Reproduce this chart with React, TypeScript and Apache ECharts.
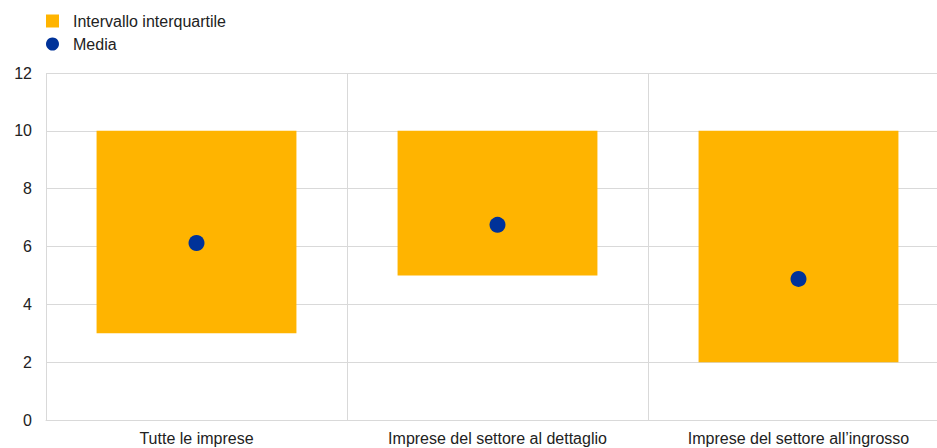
import React, { useEffect, useRef } from "react";
import * as echarts from "echarts";

const categories = ["Tutte le imprese", "Imprese del settore al dettaglio", "Imprese del settore all\u2019ingrosso"];
const q1Values = [3, 5, 2];
const q3Values = [10, 10, 10];
const meanValues = [6.12, 6.75, 4.88];
const yTicks = [0, 2, 4, 6, 8, 10, 12];

const ORANGE = "#FFB400";
const BLUE = "#003299";
const FONT = "Liberation Sans, Arial, sans-serif";

export default function App() {
  const ref = useRef<HTMLDivElement>(null);
  useEffect(() => {
    if (!ref.current) return;
    const chart = echarts.init(ref.current, null, { renderer: "svg" });
    chart.setOption({
      animation: false,
      textStyle: { fontFamily: FONT },
      legend: {
        orient: "vertical",
        left: 41,
        top: 8,
        itemWidth: 13,
        itemHeight: 13,
        itemGap: 7,
        data: [
          { name: "Intervallo interquartile", icon: "rect" },
          { name: "Media", icon: "circle" },
        ],
        textStyle: { fontSize: 16, color: "#222", fontFamily: FONT, padding: [0, 0, 0, 9] },
      },
      grid: { left: 46, top: 73, width: 903, height: 347, containLabel: false },
      xAxis: {
        type: "category",
        data: categories,
        axisLine: { show: true, lineStyle: { color: "#d9d9d9" } },
        axisTick: { show: false },
        axisLabel: { fontSize: 16, color: "#222", margin: 10, interval: 0 },
        splitLine: { show: true, interval: 0, lineStyle: { color: "#d9d9d9" } },
      },
      yAxis: {
        type: "value",
        min: yTicks[0],
        max: yTicks[yTicks.length - 1],
        interval: 2,
        axisLine: { show: false },
        axisTick: { show: false },
        axisLabel: { fontSize: 16, color: "#222", margin: 14 },
        splitLine: { show: true, lineStyle: { color: "#d9d9d9" } },
      },
      series: [
        {
          name: "base",
          type: "bar",
          stack: "iqr",
          data: q1Values,
          itemStyle: { color: "transparent" },
          barWidth: "66.4%",
          silent: true,
        },
        {
          name: "Intervallo interquartile",
          type: "bar",
          stack: "iqr",
          data: q3Values.map((v, i) => v - q1Values[i]),
          itemStyle: { color: ORANGE },
          barWidth: "66.4%",
        },
        {
          name: "Media",
          type: "scatter",
          data: meanValues,
          symbol: "circle",
          symbolSize: 16,
          itemStyle: { color: BLUE, opacity: 1 },
          z: 5,
        },
      ],
    });
    return () => chart.dispose();
  }, []);
  return (
    <div style={{ width: 937, height: 448, position: "absolute", left: 0, top: 0, overflow: "hidden" }}>
      <div ref={ref} style={{ width: 960, height: 448 }} />
    </div>
  );
}
